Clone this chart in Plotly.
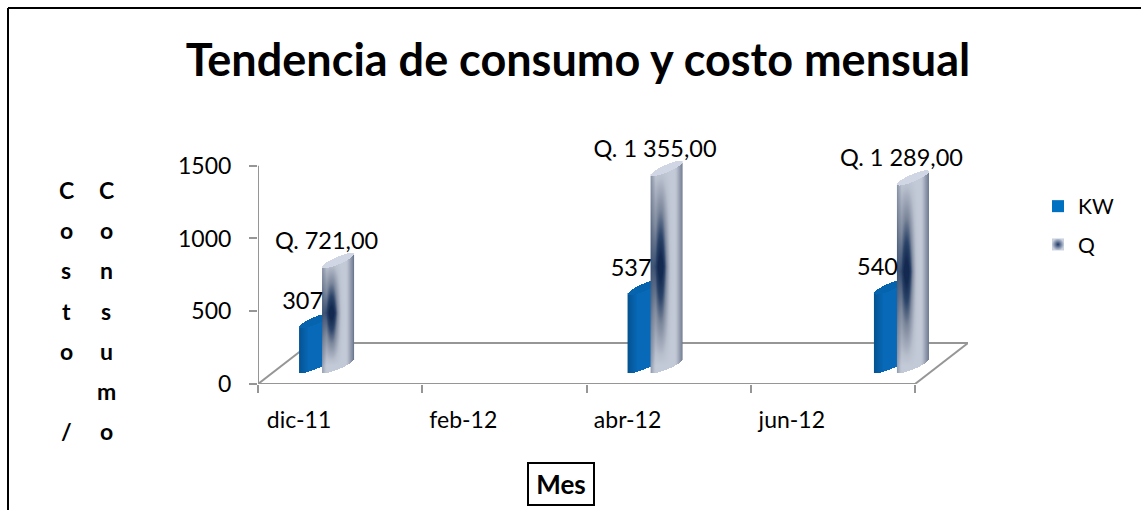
"""
Tendencia de consumo y costo mensual: 3D-looking cylinder chart.
Each cylinder is a per-pixel shaded heatmap sitting on a transparent bar that holds the value.
"""

import numpy as np
import plotly.graph_objects as go

WIDTH = 1141
HEIGHT = 510
FONT = "Lato"

# data
months = [0, 4, 7]
kw_values = [307, 537, 540]
q_values = [721, 1355, 1289]
tick_months = [0, 2, 4, 6]
tick_labels = ["dic-11", "feb-12", "abr-12", "jun-12"]
y_ticks = [0, 500, 1000, 1500]
axis_labels = ["Costo /", "Consumo"]

# pixel layout of the plot
X0_PX, X1_PX = 258, 968
Y0_PX, Y1_PX = 384, 143.5
PX_PER_MONTH = 82.125
UNITS_PER_PX = 1500 / 218.3
X_MAX = -0.5 + (X1_PX - X0_PX) / PX_PER_MONTH
Y_MAX = (Y0_PX - Y1_PX) * UNITS_PER_PX

# 3D look
HALF_W = 16  # px
TILT = 6.5  # px, rise from centre to right side of an end cap
MINOR = 4.0  # px, half thickness of an end cap
FLOOR_BASE = 128  # bars stand this far above the front edge
KW_OFFSET = 16  # px from month centre
Q_OFFSET = 39

Q_SCALE = [[0, "#D3D9E6"], [0.25, "#B7BECC"], [0.55, "#7D889C"], [0.8, "#2C4469"], [1, "#14294F"]]
KW_SCALE = [[0, "#0769B8"], [1, "#04508C"]]


def px_x(px):
    return px / WIDTH


def px_y(px):
    return 1 - px / HEIGHT


def q_shade(u, v):
    edge = 0.5 * np.clip((np.abs(u - 0.45) - 0.3) / 0.25, 0, 1)
    env = np.clip(1 - np.abs(v - 0.5) / 0.5, 0, 1)
    dark = np.exp(-(((u - 0.3) / 0.2) ** 2)) * env**1.1
    wide = np.clip((0.62 - u) / 0.25, 0, 1) * env**0.7
    return np.clip(0.14 + edge + 0.25 * wide + 0.72 * dark, 0, 1)


def kw_shade(u, v):
    return 0.9 * np.clip((np.abs(u - 0.55) - 0.25) / 0.3, 0, 1)


def cylinder(month, offset, value, shade, colorscale):
    cols = np.arange(-HALF_W, HALF_W) + 0.5
    u = cols / HALF_W
    x = month + (offset + cols) / PX_PER_MONTH
    top = FLOOR_BASE + value
    y = np.arange(FLOOR_BASE - 14 * UNITS_PER_PX, top + 14 * UNITS_PER_PX, UNITS_PER_PX)
    uu, yy = np.meshgrid(u, y)

    arc = MINOR * np.sqrt(1 - uu**2) * UNITS_PER_PX
    slope = TILT * uu * UNITS_PER_PX
    low_edge = FLOOR_BASE + slope - arc
    cap_low = top + slope - arc
    cap_high = top + slope + arc

    z = shade((uu + 1) / 2, (yy - FLOOR_BASE) / value)
    z = np.where(yy >= cap_low, 0.03 if shade is q_shade else 0.25, z)
    z = np.where((yy < low_edge) | (yy > cap_high), np.nan, z)

    return go.Heatmap(
        x=x, y=y, z=z, zmin=0, zmax=1, colorscale=colorscale,
        showscale=False, hoverinfo="skip", zsmooth=False,
    )


def q_label(v):
    return "Q. " + f"{v:,.2f}".replace(",", " ").replace(".", ",")


fig = go.Figure()

for month, kw in zip(months, kw_values):
    fig.add_trace(cylinder(month, KW_OFFSET, kw, kw_shade, KW_SCALE))
for month, q in zip(months, q_values):
    fig.add_trace(cylinder(month, Q_OFFSET, q, q_shade, Q_SCALE))

# transparent bars carry the values for hover
for name, values, offset in (("KW", kw_values, KW_OFFSET), ("Q", q_values, Q_OFFSET)):
    fig.add_trace(go.Bar(
        x=[m + offset / PX_PER_MONTH for m in months],
        y=values,
        base=[FLOOR_BASE] * len(values),
        width=HALF_W * 2 / PX_PER_MONTH,
        marker=dict(color="rgba(0,0,0,0)", line=dict(width=0)),
        name=name,
        showlegend=False,
    ))

# data labels
label_font = dict(family=FONT, size=23.5, color="#000000")
fig.add_trace(go.Scatter(
    x=[m + 0.043 for m in months],
    y=[v + FLOOR_BASE + 120 for v in kw_values],
    text=[str(v) for v in kw_values],
    mode="text", textfont=label_font, textposition="middle center",
    cliponaxis=False, showlegend=False, hoverinfo="skip",
))
fig.add_trace(go.Scatter(
    x=[m + 0.335 for m in months],
    y=[v + FLOOR_BASE + 120 for v in q_values],
    text=[q_label(v) for v in q_values],
    mode="text", textfont=label_font, textposition="middle center",
    cliponaxis=False, showlegend=False, hoverinfo="skip",
))

# legend entries
fig.add_trace(go.Scatter(
    x=[None], y=[None], mode="markers", name="KW", legendgroup="kw",
    marker=dict(symbol="square", size=16, color="#0070C0"),
))
fig.add_trace(go.Scatter(
    x=[None], y=[None], mode="markers", name="Q", legendgroup="q",
    marker=dict(symbol="square", size=16, color="#C9D0DE",
                gradient=dict(type="radial", color="#1F3864")),
))

# axis lines and floor of the 3D box
GREY = "#969696"
depth_x = 53 / PX_PER_MONTH
depth_y = 41 * UNITS_PER_PX
x_left, x_right = -0.5, 7.5
floor = [
    (x_left, 0, x_right, 0),
    (x_left, 0, x_left + depth_x, depth_y),
    (x_left + depth_x, depth_y, x_right + depth_x, depth_y),
    (x_right, 0, x_right + depth_x, depth_y),
    (x_left, 0, x_left, 1500),
]
for x0, y0, x1, y1 in floor:
    fig.add_shape(type="line", x0=x0, y0=y0, x1=x1, y1=y1, layer="below",
                  line=dict(color=GREY, width=2))

# outer frame, only the top and left sides show
fig.add_shape(type="line", xref="paper", yref="paper", x0=px_x(8), x1=1, y0=px_y(8), y1=px_y(8),
              line=dict(color="#000000", width=2))
fig.add_shape(type="line", xref="paper", yref="paper", x0=px_x(8), x1=px_x(8), y0=0, y1=px_y(8),
              line=dict(color="#000000", width=2))

# vertical axis titles, one letter per row
for col_x, word in zip((66, 106), axis_labels):
    for i, letter in enumerate(word):
        if letter == " ":
            continue
        fig.add_annotation(
            xref="paper", yref="paper", x=px_x(col_x), y=px_y(190 + i * 40.2),
            xanchor="center", yanchor="middle",
            text=letter, showarrow=False,
            font=dict(family=FONT, size=23, color="#000000", weight="bold"),
        )

fig.add_annotation(
    xref="paper", yref="paper", x=px_x(560.5), y=px_y(483.5), xanchor="center", yanchor="middle",
    text="<b>Mes</b>", showarrow=False, width=62, height=38,
    font=dict(family=FONT, size=26, color="#000000"),
    bordercolor="#000000", borderwidth=2, borderpad=1, bgcolor="#FFFFFF",
)

fig.update_layout(
    autosize=False,
    width=WIDTH,
    height=HEIGHT,
    margin=dict(l=0, r=0, t=0, b=0),
    paper_bgcolor="#FFFFFF",
    plot_bgcolor="rgba(0,0,0,0)",
    font=dict(family=FONT, size=23, color="#000000"),
    barmode="overlay",
    title=dict(
        text="<b>Tendencia de consumo y costo mensual</b>",
        font=dict(family=FONT, size=45, color="#000000"),
        x=578 / WIDTH, xanchor="center", y=px_y(60), yanchor="middle",
    ),
    legend=dict(
        x=px_x(1038), y=px_y(186), xanchor="left", yanchor="top",
        font=dict(family=FONT, size=21), tracegroupgap=8, itemsizing="constant",
        bgcolor="rgba(0,0,0,0)",
    ),
    xaxis=dict(
        automargin=False,
        domain=[X0_PX / WIDTH, X1_PX / WIDTH],
        range=[-0.5, X_MAX],
        showgrid=False, zeroline=False, showline=False,
        tickmode="array", tickvals=tick_months, ticktext=tick_labels,
        ticks="outside", ticklen=15, tickcolor="rgba(0,0,0,0)",
        minor=dict(tickmode="array", tickvals=[-0.5, 1.5, 3.5, 5.5, 7.5], ticks="outside",
                   ticklen=8, tickwidth=2, tickcolor=GREY, showgrid=False),
    ),
    yaxis=dict(
        automargin=False,
        domain=[1 - Y0_PX / HEIGHT, 1 - Y1_PX / HEIGHT],
        range=[0, Y_MAX],
        showgrid=False, zeroline=False, showline=False,
        tickmode="array", tickvals=y_ticks,
        ticks="outside", ticklen=8, tickwidth=2, tickcolor=GREY, ticklabelstandoff=13,
    ),
)

fig.write_html("out.html", config={"displayModeBar": False},
               post_script="document.body.style.margin='0';")
